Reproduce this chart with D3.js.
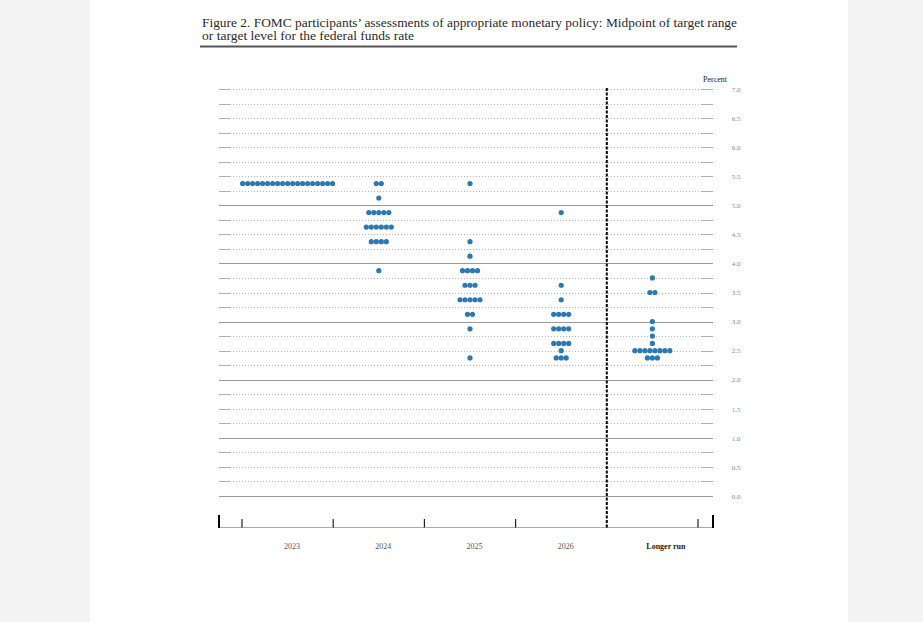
<!DOCTYPE html>
<html>
<head>
<meta charset="utf-8">
<script src="https://cdn.jsdelivr.net/npm/d3@7/dist/d3.min.js"></script>
<style>
  html, body { margin: 0; padding: 0; background: #f3f3f3; }
  svg { display: block; }
</style>
</head>
<body>
<svg id="chart" width="923" height="622"></svg>
<script>
// ---- data ----
const categories = ["2023", "2024", "2025", "2026", "Longer run"];
// [midpoint rate, number of participants]
const dots2023 = [[5.375, 19]];
const dots2024 = [[5.375, 2], [5.125, 1], [4.875, 5], [4.625, 6], [4.375, 4], [3.875, 1]];
const dots2025 = [[5.375, 1], [4.375, 1], [4.125, 1], [3.875, 4], [3.625, 3], [3.375, 5], [3.125, 2], [2.875, 1], [2.375, 1]];
const dots2026 = [[4.875, 1], [3.625, 1], [3.375, 1], [3.125, 4], [2.875, 4], [2.625, 4], [2.5, 1], [2.375, 3]];
const dotsLongerRun = [[3.75, 1], [3.5, 2], [3.0, 1], [2.875, 1], [2.75, 1], [2.625, 1], [2.5, 8], [2.375, 3]];
const yTickLabels = [0.0, 0.5, 1.0, 1.5, 2.0, 2.5, 3.0, 3.5, 4.0, 4.5, 5.0, 5.5, 6.0, 6.5, 7.0];
const solidGridValues = [0, 1, 2, 3, 4, 5];
const titleLines = [
  "Figure 2.  FOMC participants\u2019 assessments of appropriate monetary policy:  Midpoint of target range",
  "or target level for the federal funds rate"
];

const allDots = [dots2023, dots2024, dots2025, dots2026, dotsLongerRun];

// ---- layout ----
const svg = d3.select("#chart");
svg.append("rect").attr("x", 90).attr("y", 0).attr("width", 758).attr("height", 622).attr("fill", "#ffffff");

const plotLeft = 219, plotRight = 713;
const y = d3.scaleLinear().domain([0, 7]).range([496, 89]);
const x = d3.scaleBand().domain(categories).range([242, 698]).padding(0);
const cx = c => x(c) + x.bandwidth() / 2;

// title
const titleWidths = [535, 212];
titleLines.forEach((t, i) => {
  svg.append("text")
    .attr("x", 202).attr("y", 27 + i * 13)
    .attr("font-family", "Liberation Serif, DejaVu Serif, serif")
    .attr("font-size", 11.5)
    .attr("fill", "#2a2a2a")
    .attr("textLength", titleWidths[i])
    .attr("lengthAdjust", "spacingAndGlyphs")
    .text(t);
});
svg.append("line").attr("x1", 200).attr("x2", 737).attr("y1", 46.5).attr("y2", 46.5)
  .attr("stroke", "#555").attr("stroke-width", 2);

// grid
const grid = svg.append("g");
const quarters = d3.range(0, 7.001, 0.25);
quarters.forEach(v => {
  const yy = Math.round(y(v)) + 0.5;
  const isSolid = solidGridValues.some(s => Math.abs(s - v) < 1e-6);
  if (isSolid) {
    grid.append("line").attr("x1", plotLeft).attr("x2", plotRight).attr("y1", yy).attr("y2", yy)
      .attr("stroke", "#9a9a9a").attr("stroke-width", 1);
  } else {
    grid.append("line").attr("x1", plotLeft).attr("x2", plotLeft + 11).attr("y1", yy).attr("y2", yy)
      .attr("stroke", "#b0b0b0").attr("stroke-width", 1);
    grid.append("line").attr("x1", plotLeft + 11).attr("x2", plotRight - 11).attr("y1", yy).attr("y2", yy)
      .attr("stroke", "#b4b4b4").attr("stroke-width", 1).attr("stroke-dasharray", "1,2");
    grid.append("line").attr("x1", plotRight - 11).attr("x2", plotRight).attr("y1", yy).attr("y2", yy)
      .attr("stroke", "#b0b0b0").attr("stroke-width", 1);
  }
});

// right axis labels
const yAxis = d3.axisRight(y).tickValues(yTickLabels).tickFormat(d3.format(".1f")).tickSize(0).tickPadding(0);
const yg = svg.append("g").attr("transform", `translate(736,0)`).call(yAxis);
yg.select(".domain").remove();
yg.selectAll("text")
  .attr("text-anchor", "middle").attr("x", 0)
  .attr("font-family", "Liberation Serif, DejaVu Serif, serif")
  .attr("font-size", 7).attr("fill", "#888");

svg.append("text").attr("x", 727).attr("y", 82).attr("text-anchor", "end")
  .attr("font-family", "Liberation Serif, DejaVu Serif, serif")
  .attr("font-size", 8).attr("fill", "#222").text("Percent");

// x axis
const xg = svg.append("g");
xg.append("line").attr("x1", plotLeft).attr("x2", plotRight).attr("y1", 527.5).attr("y2", 527.5)
  .attr("stroke", "#aaa").attr("stroke-width", 1);
const boundaries = categories.map(c => x(c)).concat([x.range()[1]]);
boundaries.forEach((b, i) => {
  if (i === 4) return; // dashed separator drawn below
  xg.append("line").attr("x1", b).attr("x2", b).attr("y1", 519).attr("y2", 527.5)
    .attr("stroke", "#222").attr("stroke-width", 1.2);
});
[plotLeft, plotRight].forEach(b => {
  xg.append("line").attr("x1", b).attr("x2", b).attr("y1", 515).attr("y2", 528)
    .attr("stroke", "#000").attr("stroke-width", 2);
});
// separator before longer run
const sepX = x("Longer run");
svg.append("line").attr("x1", sepX).attr("x2", sepX).attr("y1", 88).attr("y2", 528)
  .attr("stroke", "#000").attr("stroke-width", 2).attr("stroke-dasharray", "3,1.5");

// x labels
categories.forEach((c, i) => {
  const isLR = c === "Longer run";
  svg.append("text")
    .attr("x", cx(c) + (isLR ? 13.5 : 4.5)).attr("y", 549)
    .attr("text-anchor", "middle")
    .attr("font-family", "Liberation Serif, DejaVu Serif, serif")
    .attr("font-size", 8)
    .attr("font-weight", isLR ? "bold" : "normal")
    .attr("fill", isLR ? "#222" : "#555")
    .text(c);
});

// dots
const dotStep = 5.0, r = 2.6;
const dotG = svg.append("g");
categories.forEach((c, ci) => {
  allDots[ci].forEach(([rate, n]) => {
    d3.range(n).forEach(k => {
      dotG.append("circle")
        .attr("cx", cx(c) + (k - (n - 1) / 2) * dotStep)
        .attr("cy", y(rate))
        .attr("r", r)
        .attr("fill", "#2b78b3");
    });
  });
});
</script>
</body>
</html>
